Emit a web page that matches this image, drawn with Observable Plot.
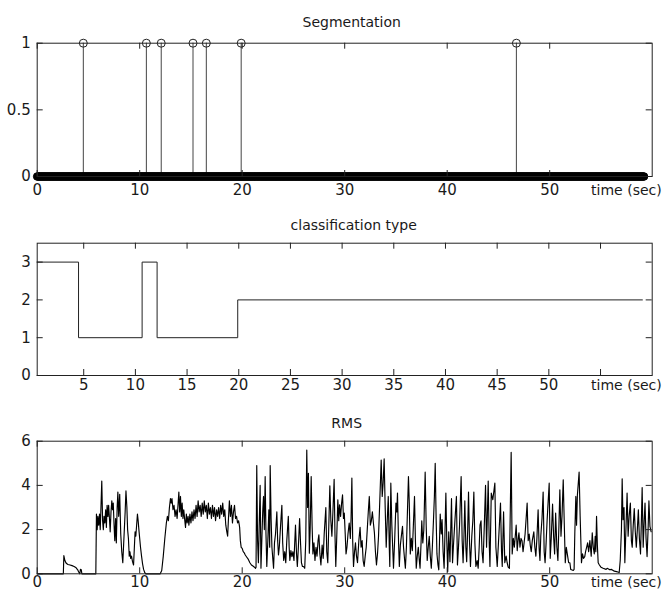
<!DOCTYPE html>
<html><head><meta charset="utf-8">
<script src="https://cdn.jsdelivr.net/npm/d3@7"></script>
<script src="https://cdn.jsdelivr.net/npm/@observablehq/plot@0.6"></script>
<style>
body{margin:0;background:#fff;}
#chart{width:662px;height:597px;overflow:hidden;background:#fff;}
#chart svg{display:block;}
</style></head><body><div id="chart"></div>
<script>
// ---- Data ----
const boundaryTimes = [4.5, 10.65, 12.1, 15.2, 16.5, 19.9, 46.75];
const frameStep = 0.1;
const frameEnd = 59.2;
const classTimes = [0.5, 4.5, 10.65, 12.1, 19.9, 59.06];
const classValues = [3, 1, 3, 1, 2, 2];
const segXTicks = [0, 10, 20, 30, 40, 50];
const segYTicks = [0, 0.5, 1];
const classXTicks = [5, 10, 15, 20, 25, 30, 35, 40, 45, 50, 55];
const classXLabels = [5, 10, 15, 20, 25, 30, 35, 40, 45, 50];
const classYTicks = [0, 1, 2, 3];
const rmsXTicks = [0, 10, 20, 30, 40, 50];
const rmsYTicks = [0, 2, 4, 6];
const rms = [
[0,0],[2.55,0],[2.6,0.82],[2.7,0.6],[2.8,0.5],[2.9,0.45],[3.0,0.42],[3.2,0.4],[3.4,0.37],[3.6,0.33],[3.8,0.27],[3.95,0.18],[4.05,0.08],[4.15,0],[4.22,0.2],[4.3,0.18],[4.36,0],[5.72,0],
[5.78,2.7],[5.85,2.0],[5.92,2.6],[6.0,2.2],[6.08,2.7],[6.15,2.0],[6.22,3.0],[6.3,4.2],[6.38,2.4],[6.45,2.0],[6.52,2.6],[6.6,2.3],[6.68,2.9],[6.75,2.1],[6.82,3.1],[6.9,2.6],[6.97,3.1],[7.05,2.5],[7.12,1.9],[7.2,2.8],[7.28,3.3],[7.35,2.9],[7.42,3.2],[7.5,2.2],[7.57,1.5],[7.65,2.5],[7.72,1.4],[7.8,3.0],[7.87,3.7],[7.95,2.6],[8.05,3.6],[8.15,1.8],[8.25,1.0],[8.35,0.5],[8.42,1.2],[8.5,2.0],[8.58,2.8],[8.66,3.75],[8.75,3.0],[8.82,2.0],[8.9,1.6],[8.98,0.8],[9.05,1.0],[9.12,0.7],[9.2,0.8],[9.3,0.55],[9.4,0.4],[9.47,1.1],[9.55,1.9],[9.62,1.7],[9.7,2.2],[9.78,2.7],[9.85,2.4],[9.92,2.0],[10.0,1.6],[10.08,1.2],[10.18,0.8],[10.28,0.45],[10.38,0.2],[10.5,0.05],[10.6,0],[12.0,0],
[12.15,0.15],[12.3,0.8],[12.45,1.6],[12.6,2.3],[12.7,2.6],[12.8,2.4],[12.9,3.0],[13.0,3.4],[13.07,3.2],[13.15,3.4],[13.25,2.9],[13.35,3.1],[13.45,2.6],[13.55,2.9],[13.65,2.5],[13.75,3.2],[13.82,3.7],[13.9,2.8],[13.98,3.5],[14.06,2.6],[14.14,3.2],[14.22,2.5],[14.3,2.9],[14.4,2.4],[14.47,2.1],[14.55,2.7],[14.63,2.3],[14.72,2.6],[14.8,2.2],[14.9,2.7],[15.0,2.3],[15.1,2.8],[15.2,2.4],[15.3,2.9],[15.4,2.5],[15.5,3.1],[15.6,2.6],[15.7,3.3],[15.8,2.8],[15.9,3.1],[16.0,2.6],[16.1,3.2],[16.2,2.7],[16.3,3.3],[16.4,2.8],[16.5,3.1],[16.6,2.5],[16.7,3.2],[16.8,2.7],[16.9,3.0],[17.0,2.5],[17.1,3.1],[17.2,2.6],[17.3,3.0],[17.4,2.4],[17.5,2.9],[17.6,2.6],[17.7,3.0],[17.8,2.5],[17.9,3.1],[18.0,2.7],[18.1,3.2],[18.2,2.6],[18.3,2.9],[18.4,2.2],[18.5,1.9],[18.58,1.7],[18.65,2.4],[18.75,3.3],[18.85,2.6],[18.95,3.1],[19.05,2.3],[19.15,2.8],[19.25,3.1],[19.35,2.5],[19.45,2.6],[19.55,2.3],[19.65,2.4],[19.75,2.1],[19.82,1.5],[19.9,1.2],[20.0,1.15],[20.1,1.0],[20.2,0.95],[20.3,0.85],[20.45,0.75],[20.6,0.65],[20.75,0.5],[20.9,0.4],[21.05,0.35],[21.2,0.3],[21.3,0.25],
[21.35,0.3],[21.42,4.9],[21.5,1.5],[21.58,0.5],[21.66,2.2],[21.75,4.0],[21.83,0.25],[21.92,1.6],[22.0,2.8],[22.08,3.5],[22.16,2.0],[22.24,4.4],[22.32,1.8],[22.4,0.33],[22.5,1.5],[22.6,2.9],[22.68,1.2],[22.73,4.9],[22.82,2.5],[22.9,1.2],[23.0,0.6],[23.06,0.25],[23.15,1.4],[23.25,1.8],[23.38,2.8],[23.46,1.5],[23.54,0.85],[23.62,1.2],[23.72,2.0],[23.8,2.6],[23.87,3.1],[23.95,1.4],[24.05,0.6],[24.15,1.0],[24.25,0.5],[24.35,1.5],[24.5,2.6],[24.58,1.2],[24.65,0.6],[24.75,1.05],[24.85,0.78],[24.95,1.0],[25.05,0.6],[25.2,2.2],[25.3,0.9],[25.38,0.33],[25.48,1.2],[25.6,2.5],[25.7,1.3],[25.78,0.5],[25.88,0.33],[25.98,0.33],[26.1,0.25],[26.2,1.5],[26.3,5.6],[26.38,3.0],[26.46,4.55],[26.55,0.93],[26.63,2.0],[26.73,4.4],[26.82,2.2],[26.9,0.9],[27.0,1.4],[27.1,0.6],[27.2,1.2],[27.3,0.8],[27.4,1.5],[27.48,1.76],[27.58,0.9],[27.68,0.4],[27.8,1.3],[27.9,0.7],[28.0,1.8],[28.08,2.4],[28.16,3.0],[28.25,1.0],[28.35,0.5],[28.45,2.2],[28.55,3.98],[28.65,2.4],[28.75,1.7],[28.85,2.8],[28.97,4.28],[29.05,1.8],[29.13,0.33],[29.22,1.6],[29.33,3.35],[29.42,2.4],[29.5,3.12],[29.6,2.6],[29.7,3.2],[29.79,3.57],[29.88,2.5],[29.96,2.75],[30.05,1.8],[30.13,0.9],[30.22,1.2],[30.32,1.8],[30.44,2.3],[30.55,1.6],[30.62,2.5],[30.7,4.33],[30.78,1.5],[30.86,0.33],[30.96,1.0],[31.05,1.4],[31.15,0.8],[31.25,0.5],[31.38,1.5],[31.5,2.1],[31.6,1.2],[31.7,1.5],[31.8,0.6],[31.9,0.33],[32.0,0.8],[32.1,1.2],[32.2,2.0],[32.3,2.8],[32.4,3.5],[32.5,2.2],[32.6,2.4],[32.7,2.8],[32.8,2.3],[32.9,1.85],[33.0,1.0],[33.1,0.4],[33.2,0.9],[33.3,1.7],[33.4,3.0],[33.56,5.15],[33.66,3.5],[33.75,4.1],[33.85,5.2],[33.95,3.0],[34.05,1.2],[34.15,2.4],[34.25,3.5],[34.35,1.2],[34.4,0.33],[34.5,4.1],[34.6,2.2],[34.68,1.2],[34.76,0.25],[34.88,1.6],[35.0,3.2],[35.08,2.8],[35.15,3.65],[35.25,1.5],[35.33,0.33],[35.43,1.3],[35.55,1.8],[35.64,2.15],[35.74,1.2],[35.85,0.6],[35.92,0.25],[36.02,1.2],[36.12,2.8],[36.22,4.4],[36.3,3.2],[36.4,0.9],[36.5,1.6],[36.6,1.05],[36.7,2.2],[36.81,3.5],[36.9,1.5],[36.98,0.25],[37.08,0.8],[37.18,1.2],[37.28,0.6],[37.35,0.25],[37.45,1.4],[37.52,2.4],[37.62,1.4],[37.72,2.0],[37.85,4.6],[37.95,2.2],[38.05,0.6],[38.15,1.2],[38.25,1.7],[38.35,0.8],[38.45,0.25],[38.55,1.2],[38.65,2.3],[38.75,3.5],[38.83,5.0],[38.92,2.5],[39.0,0.9],[39.1,0.4],[39.18,0.18],[39.25,1.5],[39.32,2.7],[39.42,1.8],[39.5,2.45],[39.6,1.0],[39.7,0.25],[39.78,1.8],[39.87,3.65],[39.96,1.5],[40.05,0.1],
[40.15,1.9],[40.27,0.55],[40.42,3.4],[40.52,0.5],[40.6,1.2],[40.7,2.0],[40.9,3.5],[41.0,0.4],[41.1,1.2],[41.2,2.15],[41.36,4.4],[41.46,1.5],[41.55,0.5],[41.63,1.6],[41.72,3.3],[41.82,1.2],[41.9,0.55],[42.0,2.0],[42.08,3.7],[42.18,1.4],[42.27,0.33],[42.4,1.7],[42.5,2.4],[42.6,3.7],[42.7,1.4],[42.8,0.33],[42.92,0.6],[43.02,0.25],[43.12,1.2],[43.2,2.2],[43.3,2.4],[43.4,1.0],[43.5,0.5],[43.62,2.2],[43.74,4.0],[43.84,1.2],[44.0,4.2],[44.1,1.4],[44.17,0.33],[44.3,3.65],[44.45,3.35],[44.65,4.1],[44.75,1.2],[44.88,0.33],[45.0,1.4],[45.2,3.2],[45.3,1.0],[45.37,0.33],[45.5,2.8],[45.62,0.5],[45.75,0.8],[45.85,0.5],[45.95,0.3],[46.07,0.25],[46.24,5.5],[46.34,0.9],[46.45,1.6],[46.55,1.2],[46.73,2.2],[46.83,1.05],[46.93,1.6],[47.0,1.85],[47.1,1.2],[47.2,1.6],[47.3,1.5],[47.4,1.0],[47.5,1.4],[47.6,1.8],[47.8,3.2],[47.9,1.5],[48.0,1.8],[48.1,1.3],[48.2,1.0],[48.3,1.5],[48.45,1.9],[48.55,1.2],[48.65,0.8],[48.75,1.6],[48.87,2.9],[48.97,1.15],[49.05,0.6],[49.13,1.7],[49.25,2.5],[49.36,3.7],[49.46,1.0],[49.55,0.5],[49.65,1.4],[49.75,2.45],[49.95,4.1],[50.05,0.7],[50.15,1.6],[50.28,3.15],[50.38,1.7],[50.48,0.9],[50.58,2.75],[50.7,1.2],[50.8,0.6],[50.9,2.2],[50.99,3.8],[51.1,1.7],[51.2,2.6],[51.32,4.25],[51.42,2.3],[51.52,0.5],[51.62,1.2],[51.75,0.8],[51.85,0.5],[51.97,0.5],[52.05,0.2],[52.13,0.18],[52.3,0.15],[52.38,0.2],[52.45,1.85],[52.55,3.5],[52.62,2.2],[52.7,3.55],[52.87,4.6],[52.97,2.6],[53.1,0.5],[53.2,0.9],[53.3,0.7],[53.42,0.78],[53.5,1.0],[53.6,1.2],[53.7,1.4],[53.8,1.0],[53.92,1.5],[54.05,0.8],[54.15,1.85],[54.25,1.2],[54.35,0.9],[54.44,1.7],[54.5,1.0],[54.57,2.6],[54.65,1.3],[54.73,0.5],[54.85,0.4],[55.0,0.3],[55.21,0.25],[55.5,0.2],[55.6,0.25],[55.87,0.18],[56.0,0.2],[56.2,0.15],[56.3,0.12],[56.52,0.1],[56.65,0.08],[56.78,0.06],[56.88,0.6],[57.0,2.0],[57.07,4.3],[57.15,2.45],[57.25,3.0],[57.33,0.5],[57.45,2.2],[57.55,3.65],[57.65,1.7],[57.75,2.6],[57.87,3.2],[57.97,1.5],[58.05,1.2],[58.15,2.2],[58.25,2.95],[58.35,1.9],[58.45,1.2],[58.55,2.0],[58.65,2.9],[58.75,1.6],[58.86,0.9],[58.95,2.5],[59.02,3.9],[59.12,1.2],[59.22,2.4],[59.3,3.2],[59.4,1.6],[59.5,0.78],[59.6,2.0],[59.68,3.3],[59.78,2.15],[59.9,1.9]
];

// ---- Layout helpers ----
const W = 662, ML = 36.7, MR = 10.3, TICK = 6;
const FONT = "'DejaVu Sans', sans-serif";
const INK = "#1a1a1a";
const TICKFONT = 15;

function panel({height, marginTop, marginBottom, xDomain, yDomain, xTicks, xLabels, yTicks, yLabels, title, titleDx, titleDy, labelDy, marks}) {
  const innerW = W - ML - MR;
  const innerH = height - marginTop - marginBottom;
  return Plot.plot({
    width: W, height, marginTop, marginBottom, marginLeft: ML, marginRight: MR,
    x: {domain: xDomain, axis: null},
    y: {domain: yDomain, axis: null},
    style: {fontFamily: FONT, fontSize: "14px", background: "white", color: INK, overflow: "visible"},
    marks: [
      ...marks,
      Plot.frame({stroke: "#222", strokeWidth: 1}),
      Plot.ruleX(xTicks, {x: d => d, insetTop: innerH - TICK, stroke: "#222"}),
      Plot.ruleX(xTicks, {x: d => d, insetBottom: innerH - TICK, stroke: "#222"}),
      Plot.ruleY(yTicks, {y: d => d, insetRight: innerW - TICK, stroke: "#222"}),
      Plot.ruleY(yTicks, {y: d => d, insetLeft: innerW - TICK, stroke: "#222"}),
      Plot.text(xLabels, {x: d => d, frameAnchor: "bottom", dy: labelDy, fontSize: TICKFONT, fill: INK}),
      Plot.text(["time (sec)"], {frameAnchor: "bottom-right", dx: 9.5, dy: labelDy, textAnchor: "end", fontSize: 14, fill: INK}),
      Plot.text(yLabels, {y: d => d, text: d => String(d), frameAnchor: "left", dx: -6.5, textAnchor: "end", fontSize: TICKFONT, fill: INK}),
      Plot.text([title], {frameAnchor: "top", dx: titleDx, dy: titleDy, fontSize: 14, fill: INK})
    ]
  });
}

const frames = d3.range(0, frameEnd + 1e-9, frameStep);
const classData = classTimes.map((t, i) => ({t, v: classValues[i]}));

const p1 = panel({
  height: 200, marginTop: 42.7, marginBottom: 24,
  xDomain: [0, 60], yDomain: [0, 1],
  xTicks: segXTicks, xLabels: segXTicks, yTicks: segYTicks, yLabels: segYTicks,
  title: "Segmentation", titleDx: 7, titleDy: -26.2, labelDy: 18,
  marks: [
    Plot.ruleX(boundaryTimes, {x: d => d, y1: 0, y2: 1, stroke: "#444", strokeWidth: 1}),
    Plot.dot(frames, {x: d => d, y: 0, r: 3.8, stroke: "black", strokeWidth: 1, fill: "black"}),
    Plot.dot(boundaryTimes, {x: d => d, y: 1, r: 4, stroke: "#222", strokeWidth: 1, fill: "none"})
  ]
});

const p2 = panel({
  height: 200, marginTop: 42.7, marginBottom: 25,
  xDomain: [0.5, 60], yDomain: [0, 3.5],
  xTicks: classXTicks, xLabels: classXLabels, yTicks: classYTicks, yLabels: classYTicks,
  title: "classification type", titleDx: 9, titleDy: -23.2, labelDy: 14,
  marks: [
    Plot.line(classData, {x: "t", y: "v", curve: "step-after", stroke: "#222", strokeWidth: 1})
  ]
});

const p3 = panel({
  height: 197, marginTop: 40.7, marginBottom: 23.7,
  xDomain: [0, 60], yDomain: [0, 6],
  xTicks: rmsXTicks, xLabels: rmsXTicks, yTicks: rmsYTicks, yLabels: rmsYTicks,
  title: "RMS", titleDx: 2, titleDy: -23.5, labelDy: 12.7,
  marks: [
    Plot.line(rms, {x: d => d[0], y: d => d[1], stroke: "black", strokeWidth: 1.15})
  ]
});

document.getElementById("chart").append(p1, p2, p3);
</script></body></html>
